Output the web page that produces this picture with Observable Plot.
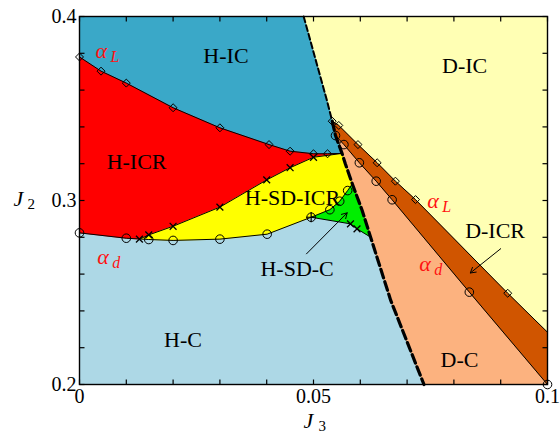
<!DOCTYPE html>
<html>
<head>
<meta charset="utf-8">
<script src="https://cdn.jsdelivr.net/npm/d3@7"></script>
<script src="https://cdn.jsdelivr.net/npm/@observablehq/plot@0.6"></script>
<style>
  body { margin: 0; background: #fff; }
</style>
</head>
<body>
<div id="chart"></div>
<script>
// Axis ranges and ticks
const J3Domain = [0, 0.1];
const J2Domain = [0.2, 0.4];
const xMinorTicks = [0, 0.01, 0.02, 0.03, 0.04, 0.05, 0.06, 0.07, 0.08, 0.09, 0.1];
const yMinorTicks = [0.2, 0.22, 0.24, 0.26, 0.28, 0.3, 0.32, 0.34, 0.36, 0.38, 0.4];
const xLabelTicks = [0, 0.05, 0.1];
const xTickLabels = ["0", "0.05", "0.1"];
const yLabelTicks = [0.2, 0.3, 0.4];
const yTickLabels = ["0.2", "0.3", "0.4"];

// H / D boundary (dashed), from the top edge down to the bottom edge
const dashJ3 = [0.0479, 0.0528, 0.0540, 0.0547, 0.0561, 0.0568, 0.0583, 0.0604, 0.0622, 0.0665, 0.0736];
const dashJ2 = [0.4000, 0.3550, 0.3431, 0.3353, 0.3256, 0.3200, 0.3090, 0.2946, 0.2801, 0.2457, 0.2000];
// where other boundaries meet the dashed line (indices into the arrays above)
const iP1 = 2, iP2 = 3, iQ = 4, iG = 6, iE = 8;

// alpha_L line between H-IC and H-ICR (diamonds)
const alphaLJ3 = [0, 0.0046, 0.01, 0.02, 0.03, 0.0405, 0.045, 0.05, 0.053];
const alphaLJ2 = [0.378, 0.3703, 0.3638, 0.3504, 0.3395, 0.3304, 0.3268, 0.3254, 0.3254];

// H-ICR / H-SD-ICR boundary (crosses)
const sdJ3 = [0.0128, 0.0148, 0.02, 0.03, 0.04, 0.045, 0.05];
const sdJ2 = [0.279, 0.2813, 0.286, 0.2964, 0.3112, 0.3178, 0.3235];

// alpha_d line above H-C (circles)
const alphaDJ3 = [0, 0.01, 0.0148, 0.02, 0.03, 0.0401, 0.0495];
const alphaDJ2 = [0.2824, 0.2795, 0.2788, 0.2783, 0.279, 0.2817, 0.2909];

// H-SD-C pocket: upper edge (circles) and lower edge (crosses)
const scUpJ3 = [0.0535, 0.0556, 0.0573];
const scUpJ2 = [0.295, 0.2996, 0.3054];
const scLowJ3 = [0.0579, 0.0593];
const scLowJ2 = [0.2873, 0.2846];

// D-ICR band: upper alpha_L edge (diamonds, last point on the right edge) and lower alpha_d edge (circles)
const dUpJ3 = [0.0540, 0.0554, 0.0595, 0.0636, 0.0675, 0.0718, 0.0915, 0.1];
const dUpJ2 = [0.3431, 0.3408, 0.3304, 0.3205, 0.3105, 0.3005, 0.2496, 0.2284];
const dLowJ3 = [0.0547, 0.0565, 0.0598, 0.0634, 0.0668, 0.0833, 0.1];
const dLowJ2 = [0.3353, 0.3304, 0.3205, 0.3105, 0.3004, 0.2502, 0.2];

// Phase names
const regionLabels = ["H-IC", "D-IC", "H-ICR", "H-SD-ICR", "D-ICR", "H-SD-C", "H-C", "D-C"];
const regionLabelJ3 = [0.0313, 0.0823, 0.0122, 0.0455, 0.0888, 0.0465, 0.0221, 0.0812];
const regionLabelJ2 = [0.3748, 0.3694, 0.3172, 0.2973, 0.2797, 0.2592, 0.2203, 0.2094];

// alpha line names
const alphaSubs = ["L", "L", "d", "d"];
const alphaNameJ3 = [0.0034, 0.0743, 0.0038, 0.0726];
const alphaNameJ2 = [0.3776, 0.2960, 0.2656, 0.2616];

// Pointer arrows for the narrow phases
const arrowFromJ3 = [0.0485, 0.0900];
const arrowFromJ2 = [0.2710, 0.2738];
const arrowToJ3 = [0.0572, 0.0835];
const arrowToJ2 = [0.2933, 0.2606];

// Region fills
const colors = {
  "H-C": "#add8e6",
  "H-IC": "#3aa8c8",
  "H-ICR": "#ff0000",
  "H-SD-ICR": "#ffff00",
  "H-SD-C": "#00ee00",
  "D-IC": "#ffffb4",
  "D-ICR": "#d05500",
  "D-C": "#fcb27f"
};

const W = 560, HT = 433;
const M = {left: 79, right: 13, top: 16, bottom: 49};
const tickPx = 5;

const pts = (xs, ys) => xs.map((x, i) => ({J3: x, J2: ys[i]}));
const rev = (a) => a.slice().reverse();
const pt = (a, b) => ({J3: a, J2: b});

const dash = pts(dashJ3, dashJ2);
const aL = pts(alphaLJ3, alphaLJ2);
const sd = pts(sdJ3, sdJ2);
const aD = pts(alphaDJ3, alphaDJ2);
const scUp = pts(scUpJ3, scUpJ2);
const scLow = pts(scLowJ3, scLowJ2);
const dUp = pts(dUpJ3, dUpJ2);
const dLow = pts(dLowJ3, dLowJ2);
const aDEnd = aD[aD.length - 1];

const [x0, x1] = J3Domain, [y0, y1] = J2Domain;

const regions = [
  ["D-IC", [...dash, pt(x1, y0), pt(x1, y1)]],
  ["D-C", [...dash.slice(iP2), ...rev(dLow)]],
  ["D-ICR", [...dUp, ...rev(dLow)]],
  ["H-IC", [pt(x0, y1), ...dash.slice(0, iQ + 1), ...rev(aL)]],
  ["H-ICR", [...aL, dash[iQ], ...rev(sd), ...rev(aD.filter(p => p.J3 < sd[0].J3))]],
  ["H-SD-ICR", [...sd, ...dash.slice(iQ, iG + 1), ...rev(scUp), ...rev(aD.filter(p => p.J3 > sd[0].J3))]],
  ["H-SD-C", [aDEnd, ...scUp, ...dash.slice(iG, iE + 1), ...rev(scLow)]]
];

// inward tick length converted from pixels to data units
const tx = tickPx * (x1 - x0) / (W - M.left - M.right);
const ty = tickPx * (y1 - y0) / (HT - M.top - M.bottom);
const tickSegs = [
  ...xMinorTicks.map(v => ({a: v, b: y0, c: v, d: y0 + ty})),
  ...xMinorTicks.map(v => ({a: v, b: y1, c: v, d: y1 - ty})),
  ...yMinorTicks.map(v => ({a: x0, b: v, c: x0 + tx, d: v})),
  ...yMinorTicks.map(v => ({a: x1, b: v, c: x1 - tx, d: v}))
];

const serif = "Liberation Serif, Times New Roman, serif";
const xy = {x: "J3", y: "J2"};
const thin = {...xy, stroke: "black", strokeWidth: 1};
const open = {...xy, stroke: "black", fill: "none", strokeWidth: 1};

const regionText = regionLabels.map((t, i) => ({t, J3: regionLabelJ3[i], J2: regionLabelJ2[i]}));
const alphaText = alphaSubs.map((s, i) => ({s, J3: alphaNameJ3[i], J2: alphaNameJ2[i]}));
const arrows = arrowFromJ3.map((_, i) => ({a: arrowFromJ3[i], b: arrowFromJ2[i], c: arrowToJ3[i], d: arrowToJ2[i]}));

const chart = Plot.plot({
  width: W,
  height: HT,
  marginLeft: M.left,
  marginRight: M.right,
  marginTop: M.top,
  marginBottom: M.bottom,
  x: {domain: J3Domain, axis: null},
  y: {domain: J2Domain, axis: null},
  style: {fontFamily: serif, fontSize: "20px", color: "black", background: "white"},
  marks: [
    Plot.frame({fill: colors["H-C"], stroke: "none"}),
    ...regions.map(([name, poly]) =>
      Plot.line(poly, {...xy, fill: colors[name], stroke: colors[name], strokeWidth: 0.6})
    ),
    // boundaries
    Plot.line([...aL, dash[iQ]], thin),
    Plot.line([...sd, dash[iQ]], thin),
    Plot.line(aD, thin),
    Plot.line([aDEnd, ...scUp, dash[iG]], thin),
    Plot.line([aDEnd, ...scLow, dash[iE]], thin),
    Plot.line(dUp, thin),
    Plot.line(dLow, thin),
    Plot.line(dash.slice(0, iP1 + 1), {...xy, stroke: "black", strokeWidth: 2, strokeDasharray: "6,3"}),
    Plot.line(dash.slice(iP1), {...xy, stroke: "black", strokeWidth: 3.2, strokeDasharray: "9,4"}),
    // markers
    Plot.dot(aL, {...open, symbol: "diamond2", r: 3.6}),
    Plot.dot(dUp.slice(0, -1), {...open, symbol: "diamond2", r: 3.6}),
    Plot.dot(aD, {...open, symbol: "circle", r: 4.3}),
    Plot.dot(scUp, {...open, symbol: "circle", r: 4.3}),
    Plot.dot(dLow, {...open, symbol: "circle", r: 4.3}),
    Plot.dot(sd, {...open, symbol: "times", r: 3.2, strokeWidth: 1.3}),
    Plot.dot(scLow, {...open, symbol: "times", r: 3.2, strokeWidth: 1.3}),
    Plot.dot([aDEnd], {...open, symbol: "plus", r: 3.4, strokeWidth: 1.2}),
    // pointer arrows
    Plot.arrow(arrows, {x1: "a", y1: "b", x2: "c", y2: "d", stroke: "black", strokeWidth: 1, headLength: 9}),
    // phase names
    Plot.text(regionText, {...xy, text: "t", fontSize: 22, fontFamily: serif, fill: "black", lineAnchor: "bottom"}),
    // alpha names
    Plot.text(alphaText, {...xy, text: () => "α", fontSize: 22, fontStyle: "italic", fontFamily: serif, fill: "#ff1111", textAnchor: "start", lineAnchor: "bottom"}),
    Plot.text(alphaText, {...xy, text: "s", fontSize: 16, fontStyle: "italic", fontFamily: serif, fill: "#ff1111", textAnchor: "start", lineAnchor: "bottom", dx: 15, dy: 4}),
    // frame and inward ticks
    Plot.frame({stroke: "black", strokeWidth: 1.4}),
    Plot.link(tickSegs, {x1: "a", y1: "b", x2: "c", y2: "d", stroke: "black", strokeWidth: 1.2}),
    // tick labels
    Plot.text(xLabelTicks, {x: d => d, text: (d, i) => xTickLabels[i], frameAnchor: "bottom", lineAnchor: "bottom", dy: 18, fontSize: 20, fontFamily: serif}),
    Plot.text(yLabelTicks, {y: d => d, text: (d, i) => yTickLabels[i], frameAnchor: "left", textAnchor: "end", lineAnchor: "middle", dx: -3, fontSize: 20, fontFamily: serif}),
    // axis titles
    Plot.text(["J"], {frameAnchor: "left", text: d => d, fontSize: 22, fontStyle: "italic", fontFamily: serif, textAnchor: "start", lineAnchor: "bottom", dx: -66, dy: 5}),
    Plot.text(["2"], {frameAnchor: "left", text: d => d, fontSize: 15, fontFamily: serif, textAnchor: "start", lineAnchor: "bottom", dx: -52, dy: 8}),
    Plot.text(["J"], {frameAnchor: "bottom", text: d => d, fontSize: 22, fontStyle: "italic", fontFamily: serif, textAnchor: "start", lineAnchor: "bottom", dx: -10, dy: 43}),
    Plot.text(["3"], {frameAnchor: "bottom", text: d => d, fontSize: 15, fontFamily: serif, textAnchor: "start", lineAnchor: "bottom", dx: 5, dy: 46})
  ]
});

document.getElementById("chart").appendChild(chart);
</script>
</body>
</html>
